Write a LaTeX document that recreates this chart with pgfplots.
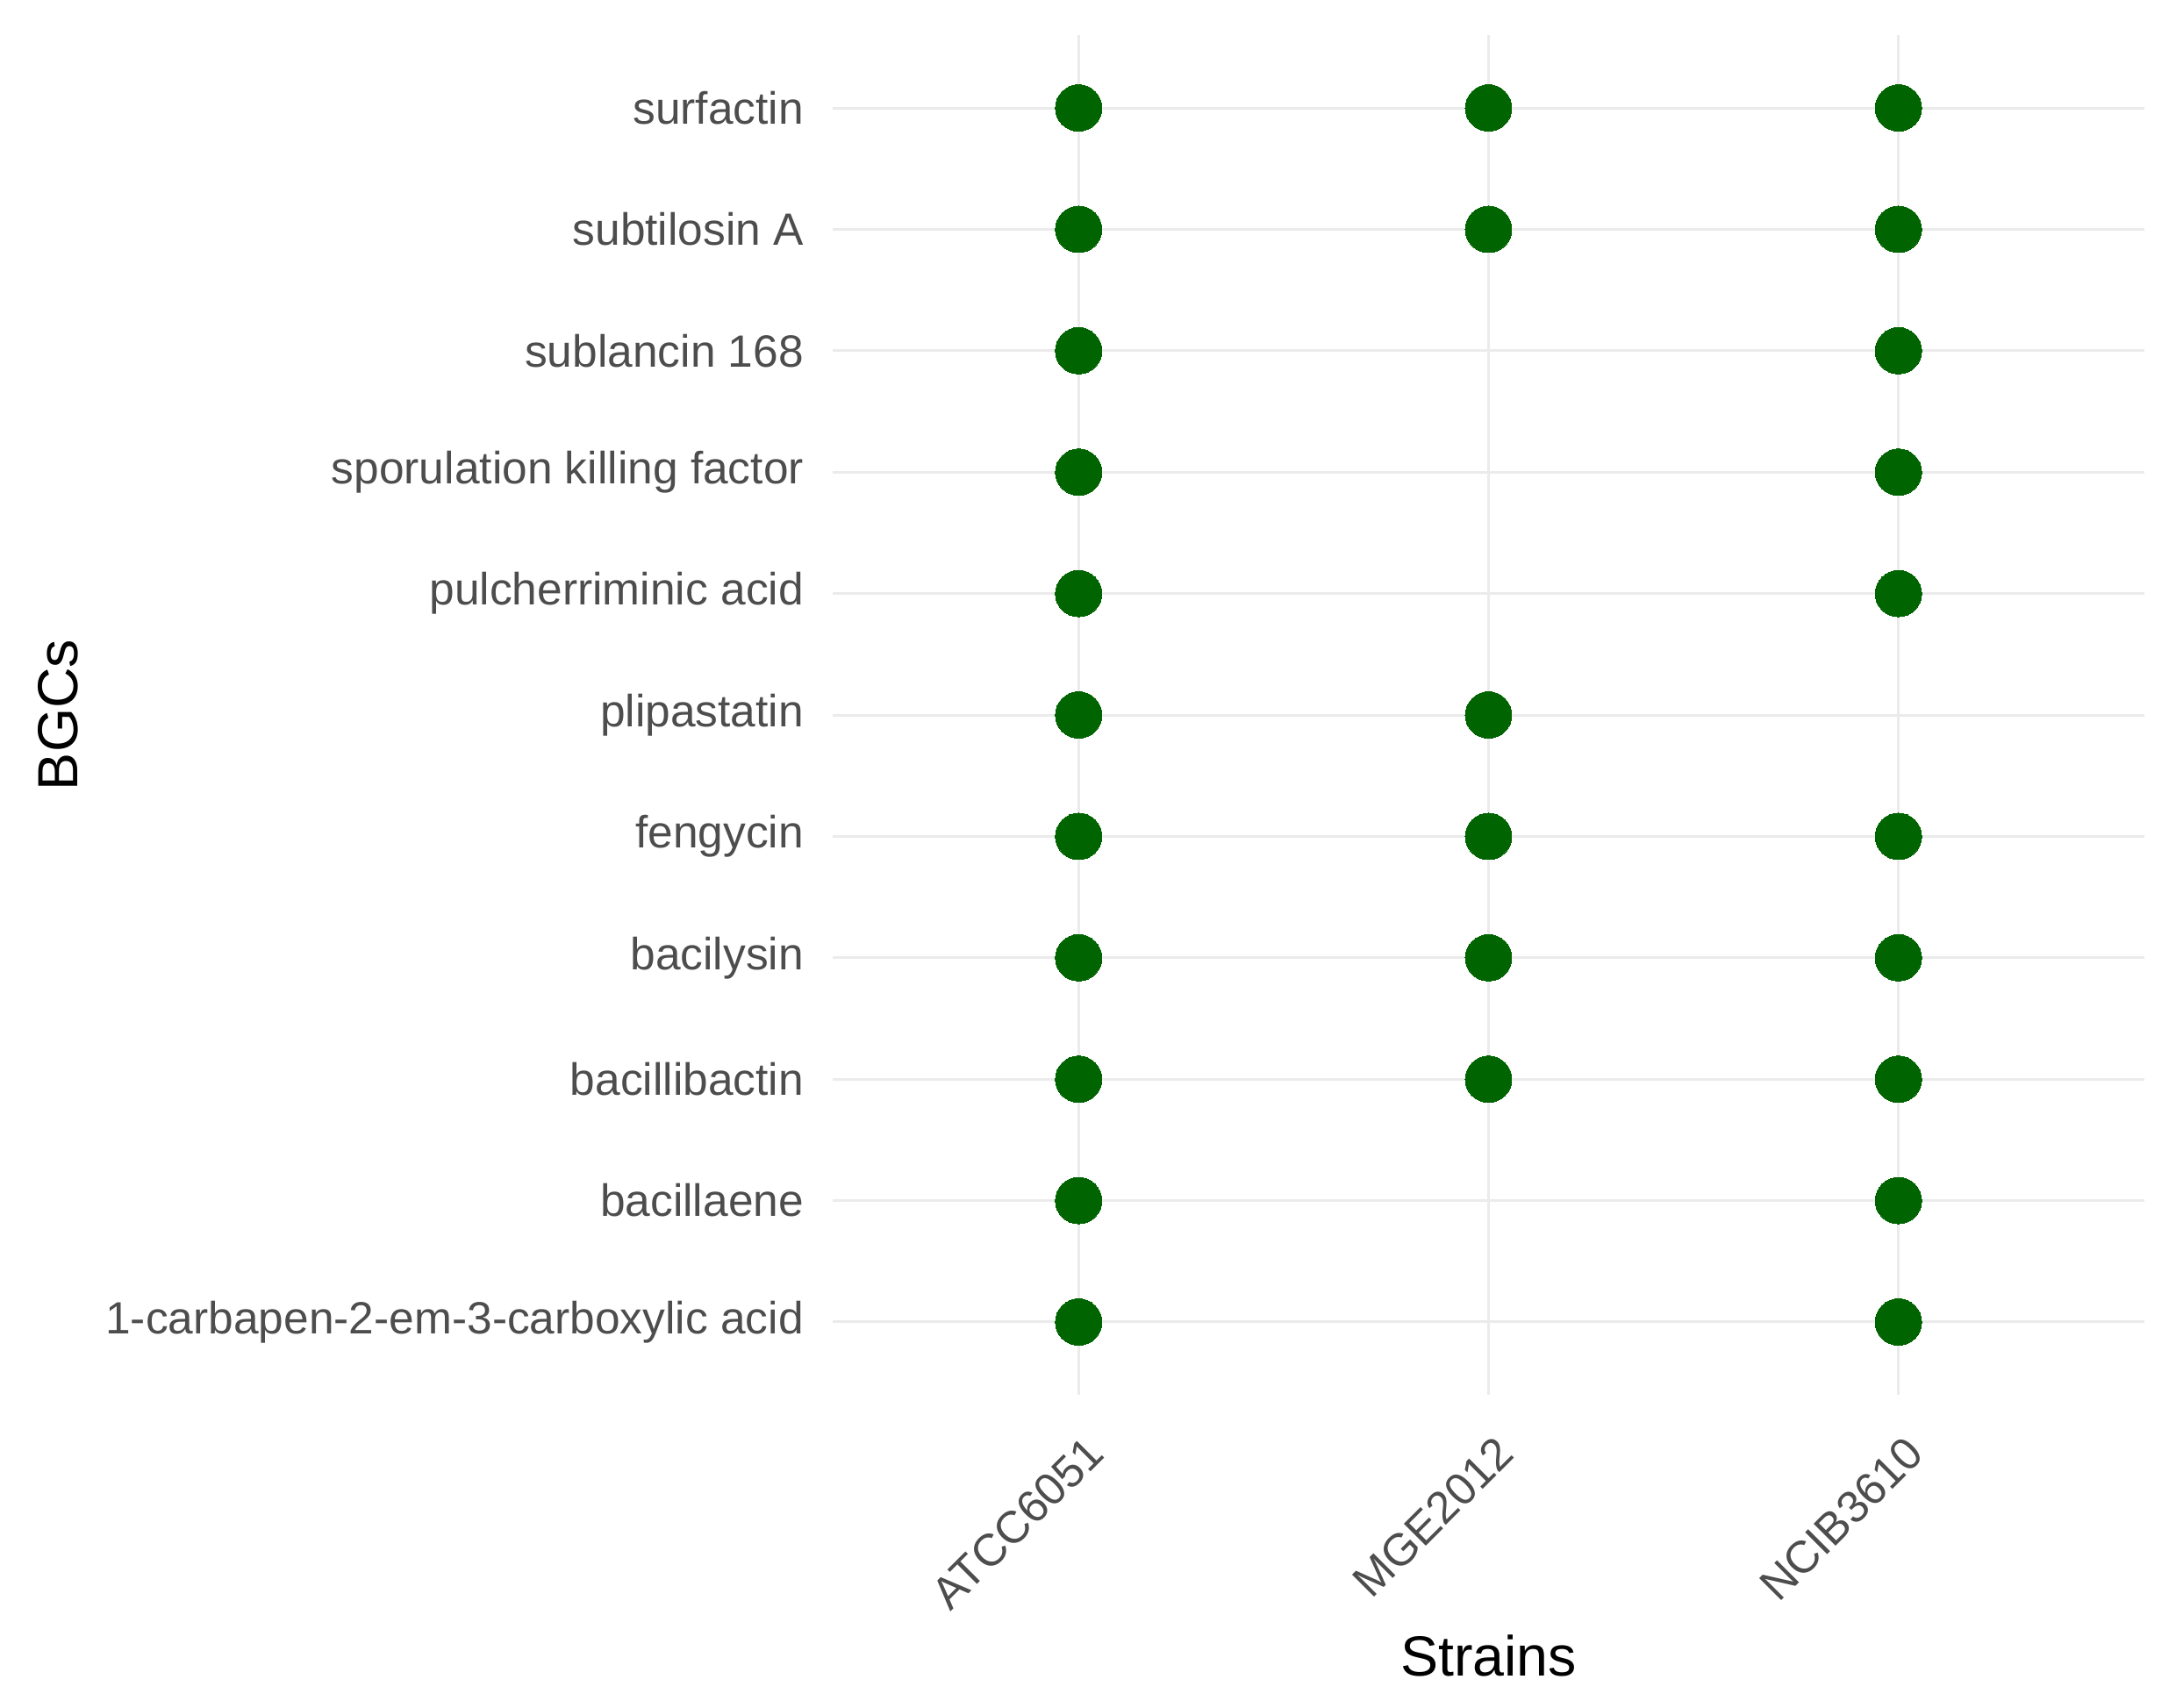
\documentclass[border=0pt]{standalone}
\usepackage{pgfplots}
\pgfplotsset{compat=1.18}
\usepackage{fontspec}
\setmainfont{Liberation Sans}
\definecolor{dotgreen}{HTML}{006400}
\definecolor{gridc}{HTML}{EBEBEB}
\definecolor{ticktext}{HTML}{4D4D4D}
\begin{document}
\begin{tikzpicture}
\useasboundingbox (0,0) rectangle (496pt,389.2pt);
\begin{axis}[
    at={(189.8pt,71.2pt)}, anchor=south west,
    scale only axis, width=299pt, height=310pt,
    xmin=0.4, xmax=3.6, ymin=0.4, ymax=11.6,
    xtick={1,2,3}, xticklabels={ATCC6051,MGE2012,NCIB3610},
    ytick={1,...,11},
    yticklabels={1-carbapen-2-em-3-carboxylic acid,bacillaene,bacillibactin,bacilysin,fengycin,plipastatin,pulcherriminic acid,sporulation killing factor,sublancin 168,subtilosin A,surfactin},
    axis line style={draw=none},
    major tick length=0pt,
    xmajorgrids, ymajorgrids,
    major grid style={color=gridc, line width=0.6pt},
    tick label style={font=\fontsize{10.3}{12}\selectfont, text=ticktext, inner sep=0pt},
    yticklabel style={anchor=east, xshift=-6.4pt},
    xticklabel style={xshift=1.2pt, yshift=-8.6pt, rotate=45, anchor=north east},
    label style={font=\fontsize{12.9}{15}\selectfont},
    xlabel={Strains},
    ylabel={BGCs},
    xlabel style={at={(axis description cs:0.5,0)}, anchor=center, yshift=-59.4pt},
    ylabel style={at={(axis description cs:0,0.5)}, anchor=center, yshift=176.6pt},
]
\addplot[only marks, mark=*, mark size=5.3pt, color=dotgreen, mark options={fill=dotgreen, draw=dotgreen, line width=0pt}] coordinates {
    (1,11) (2,11) (3,11)
    (1,10) (2,10) (3,10)
    (1,9) (3,9)
    (1,8) (3,8)
    (1,7) (3,7)
    (1,6) (2,6)
    (1,5) (2,5) (3,5)
    (1,4) (2,4) (3,4)
    (1,3) (2,3) (3,3)
    (1,2) (3,2)
    (1,1) (3,1)
};
\end{axis}
\end{tikzpicture}
\end{document}
